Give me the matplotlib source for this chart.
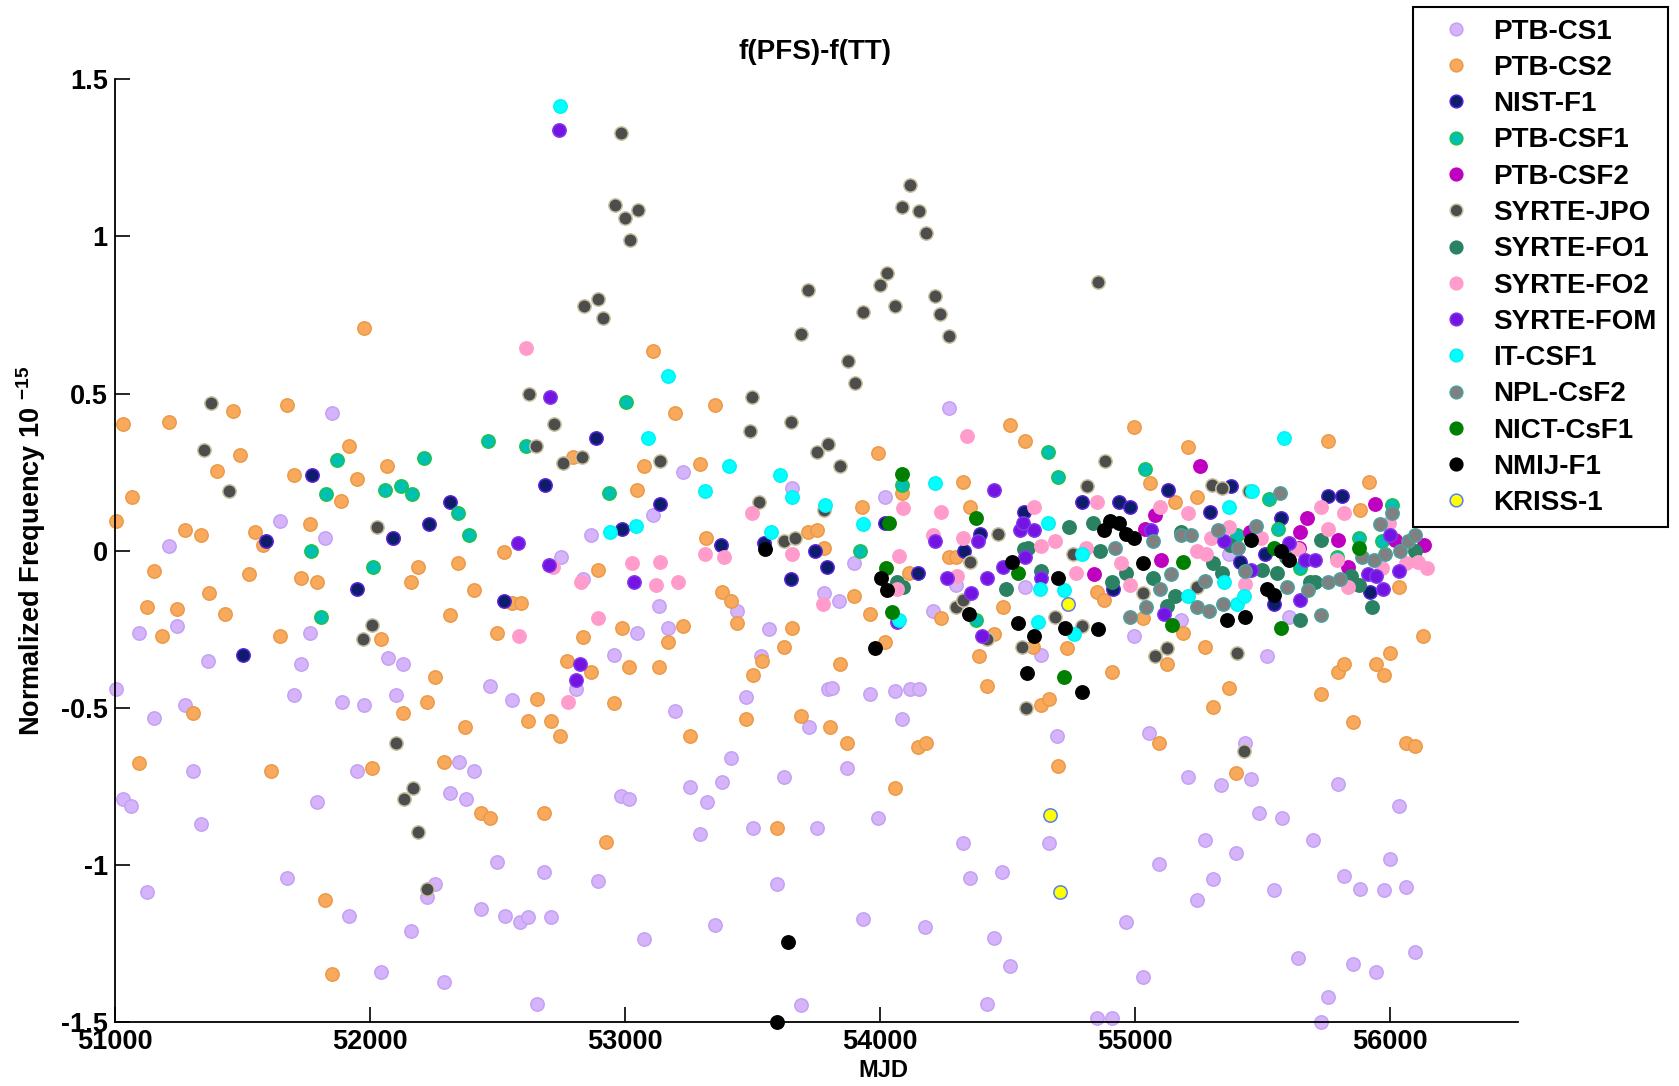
import matplotlib
matplotlib.use("Agg")
import matplotlib.pyplot as plt

plt.rcParams['font.family'] = ['Liberation Sans', 'DejaVu Sans']
plt.rcParams['font.weight'] = 'bold'
plt.rcParams['mathtext.fontset'] = 'custom'
plt.rcParams['mathtext.bf'] = 'Liberation Sans:bold'
plt.rcParams['mathtext.rm'] = 'Liberation Sans:bold'

names = ['PTB-CS1', 'PTB-CS2', 'NIST-F1', 'PTB-CSF1', 'PTB-CSF2', 'SYRTE-JPO',
         'SYRTE-FO1', 'SYRTE-FO2', 'SYRTE-FOM', 'IT-CSF1', 'NPL-CsF2',
         'NICT-CsF1', 'NMIJ-F1', 'KRISS-1']

PTB_CS1 = [(51004,-0.44),(51034,-0.79),(51063,-0.81),(51097,-0.26),(51126,-1.085),(51155,-0.53),
    (51214,0.015),(51244,-0.24),(51277,-0.49),(51307,-0.70),(51340,-0.87),(51366,-0.35),(51648,0.095),
    (51676,-1.04),(51702,-0.46),(51731,-0.36),(51765,-0.26),(51794,-0.80),(51824,0.04),(51853,0.44),
    (51891,-0.48),(51920,-1.16),(51950,-0.70),(51979,-0.49),(52042,-1.34),(52071,-0.34),(52101,-0.46),
    (52130,-0.36),(52160,-1.21),(52223,-1.10),(52256,-1.06),(52290,-1.37),(52315,-0.77),(52349,-0.67),
    (52378,-0.79),(52408,-0.70),(52437,-1.14),(52471,-0.43),(52500,-0.99),(52529,-1.16),(52559,-0.475),
    (52588,-1.18),(52622,-1.165),(52656,-1.44),(52681,-1.02),(52710,-1.165),(52748,-0.02),(52807,-0.44),
    (52837,-0.09),(52866,0.05),(52895,-1.05),(52958,-0.33),(52983,-0.78),(53017,-0.79),(53046,-0.26),
    (53076,-1.235),(53109,0.115),(53134,-0.175),(53168,-0.245),(53197,-0.51),(53227,0.25),(53256,-0.75),
    (53294,-0.90),(53323,-0.80),(53353,-1.19),(53382,-0.735),(53416,-0.66),(53441,-0.19),(53475,-0.465),
    (53504,-0.88),(53534,-0.335),(53563,-0.25),(53597,-1.06),(53622,-0.72),(53655,0.20),(53689,-1.445),
    (53723,-0.56),(53752,-0.88),(53782,-0.135),(53798,-0.44),(53811,-0.435),(53840,-0.16),(53870,-0.69),
    (53899,-0.04),(53933,-1.17),(53962,-0.455),(53992,-0.85),(54021,0.17),(54059,-0.445),(54088,-0.535),
    (54118,-0.44),(54151,-0.44),(54176,-1.195),(54206,-0.19),(54269,0.455),(54298,-0.11),(54324,-0.93),
    (54353,-1.04),(54420,-1.44),(54445,-1.23),(54479,-1.02),(54508,-1.32),(54567,-0.115),(54630,-0.33),
    (54664,-0.93),(54693,-0.59),(54849,-1.485),(54908,-1.485),(54966,-1.18),(54996,-0.27),(55029,-1.355),
    (55055,-0.58),(55093,-0.995),(55181,-0.22),(55206,-0.72),(55244,-1.11),(55273,-0.92),(55307,-1.045),
    (55336,-0.745),(55366,-0.01),(55395,-0.96),(55429,-0.61),(55454,-0.725),(55487,-0.835),(55517,-0.335),
    (55546,-1.08),(55576,-0.85),(55605,-0.21),(55639,-1.295),(55698,-0.92),(55727,-1.50),(55756,-1.42),
    (55794,-0.74),(55819,-1.035),(55853,-1.315),(55882,-1.075),(55945,-1.34),(55975,-1.08),(56000,-0.98),
    (56034,-0.81),(56063,-1.07),(56097,-1.275)]

PTB_CS2 = [(51004,0.095),(51034,0.405),(51067,0.17),(51097,-0.675),(51126,-0.18),(51155,-0.065),
    (51185,-0.27),(51214,0.41),(51244,-0.185),(51277,0.065),(51307,-0.515),(51340,0.05),(51370,-0.135),
    (51403,0.255),(51433,-0.20),(51462,0.445),(51492,0.305),(51525,-0.075),(51551,0.06),(51580,0.02),
    (51614,-0.70),(51647,-0.27),(51676,0.465),(51702,0.24),(51731,-0.085),(51765,0.085),(51794,-0.10),
    (51824,-1.11),(51853,-1.345),(51887,0.16),(51920,0.335),(51950,0.23),(51979,0.71),(52008,-0.69),
    (52042,-0.28),(52067,0.27),(52092,0.04),(52130,-0.515),(52160,-0.10),(52189,-0.05),(52223,-0.48),
    (52256,-0.40),(52290,-0.67),(52315,-0.205),(52345,-0.04),(52374,-0.56),(52408,-0.125),(52437,-0.835),
    (52471,-0.85),(52500,-0.26),(52525,-0.005),(52559,-0.165),(52592,-0.165),(52622,-0.54),(52656,-0.47),
    (52681,-0.835),(52710,-0.54),(52744,-0.59),(52773,-0.35),(52798,0.30),(52836,-0.275),(52866,-0.385),
    (52895,-0.06),(52924,-0.925),(52958,-0.485),(52987,-0.245),(53017,-0.37),(53046,0.195),(53076,0.27),
    (53109,0.635),(53134,-0.37),(53168,-0.29),(53197,0.44),(53227,-0.24),(53256,-0.59),(53294,0.275),
    (53319,0.04),(53353,0.465),(53382,-0.13),(53416,-0.16),(53441,-0.23),(53475,-0.535),(53504,-0.395),
    (53538,-0.35),(53597,-0.88),(53622,-0.305),(53655,-0.245),(53689,-0.525),(53718,0.06),(53752,0.065),
    (53782,0.01),(53803,-0.56),(53845,-0.36),(53870,-0.61),(53899,-0.145),(53929,0.14),(53962,-0.20),
    (53992,0.31),(54021,-0.29),(54059,-0.755),(54088,0.185),(54113,-0.07),(54147,-0.625),(54181,-0.61),
    (54240,-0.215),(54269,-0.02),(54298,-0.02),(54324,0.22),(54353,0.14),(54387,-0.335),(54420,-0.43),
    (54445,-0.265),(54483,-0.18),(54508,0.40),(54567,0.35),(54601,-0.305),(54630,-0.49),(54664,-0.47),
    (54698,-0.685),(54731,-0.31),(54849,-0.13),(54878,-0.155),(54908,-0.385),(54996,0.395),(55029,-0.215),
    (55059,0.215),(55093,-0.61),(55126,-0.36),(55156,0.155),(55189,-0.26),(55206,0.33),(55244,0.17),
    (55273,-0.305),(55307,-0.495),(55366,-0.435),(55395,-0.705),(55727,-0.455),(55756,0.35),(55794,-0.385),
    (55819,-0.36),(55853,-0.545),(55882,0.13),(55916,0.22),(55945,-0.36),(55975,-0.395),(56000,-0.325),
    (56034,-0.115),(56063,-0.61),(56097,-0.62),(56130,-0.27)]

NIST_F1 = [(51504,-0.33),(51592,0.03),(51773,0.24),(51950,-0.12),(52092,0.04),(52231,0.085),(52315,0.155),
    (52525,-0.16),(52685,0.21),(52887,0.36),(52987,0.07),(53139,0.15),(53378,0.02),(53546,0.025),
    (53651,-0.09),(53744,0.0),(53794,-0.05),(54021,0.09),(54147,-0.07),(54328,0.0),(54391,0.055),
    (54563,0.125),(54790,0.155),(54912,-0.12),(54937,0.155),(54979,0.14),(55130,0.195),(55294,0.125),
    (55374,0.205),(55412,-0.035),(55508,-0.01),(55546,-0.17),(55571,0.105),(55756,0.175),(55811,0.175),
    (55920,-0.13)]

PTB_CSF1 = [(51769,0.0),(51807,-0.21),(51828,0.18),(51870,0.29),(52013,-0.05),(52059,0.195),(52122,0.205),
    (52164,0.18),(52214,0.295),(52345,0.12),(52387,0.05),(52462,0.35),(52613,0.335),(52937,0.185),
    (53004,0.475),(53920,0.0),(54088,0.21),(54378,-0.22),(54660,0.315),(54698,0.235),(55038,0.26),
    (55399,0.05),(55525,0.165),(55559,0.07),(55647,-0.055),(55790,-0.02),(55878,0.04),(55966,0.03),
    (56008,0.145)]

PTB_CSF2 = [(54840,-0.075),(55038,0.07),(55076,0.115),(55101,-0.03),(55256,0.27),(55450,0.06),(55643,0.01),
    (55647,0.06),(55672,0.105),(55794,0.035),(55836,-0.05),(55941,0.15),(56017,0.035),(56134,0.02)]

SYRTE_JPO = [(51349,0.32),(51378,0.47),(51450,0.19),(51975,-0.28),(52008,-0.235),(52029,0.075),(52101,-0.61),
    (52135,-0.79),(52168,-0.755),(52189,-0.895),(52223,-1.075),(52626,0.50),(52651,0.335),(52723,0.405),
    (52756,0.28),(52832,0.30),(52840,0.78),(52895,0.80),(52916,0.74),(52962,1.10),(52983,1.33),(53000,1.06),
    (53021,0.99),(53050,1.085),(53139,0.285),(53492,0.38),(53500,0.49),(53525,0.155),(53622,0.03),
    (53651,0.41),(53668,0.04),(53689,0.69),(53718,0.83),(53752,0.315),(53782,0.13),(53798,0.34),
    (53845,0.27),(53874,0.605),(53903,0.535),(53933,0.76),(54000,0.845),(54029,0.885),(54059,0.78),
    (54088,1.095),(54118,1.165),(54151,1.08),(54181,1.01),(54214,0.81),(54235,0.755),(54269,0.685),
    (54298,-0.18),(54324,-0.155),(54353,-0.035),(54420,-0.28),(54462,0.055),(54555,-0.305),(54571,-0.50),
    (54685,-0.21),(54756,-0.01),(54790,-0.24),(54811,0.205),(54853,0.855),(54882,0.285),(55029,-0.135),
    (55076,-0.335),(55126,-0.31),(55244,-0.115),(55303,0.21),(55340,0.20),(55399,-0.325),(55425,-0.635),
    (55445,0.19)]

SYRTE_FO1 = [(54067,-0.10),(54092,-0.115),(54492,-0.12),(54563,0.005),(54580,0.01),(54630,-0.065),
    (54740,0.075),(54836,0.09),(54861,0.0),(54908,-0.10),(54966,-0.07),(55071,-0.085),(55126,-0.175),
    (55155,-0.145),(55181,0.06),(55307,-0.04),(55340,-0.07),(55370,0.02),(55496,-0.06),(55555,-0.07),
    (55592,-0.02),(55647,-0.22),(55685,-0.10),(55706,-0.10),(55727,0.035),(55845,-0.08),(55878,-0.11),
    (55929,-0.18),(56097,0.0)]

SYRTE_FO2 = [(52584,-0.27),(52613,0.645),(52718,-0.05),(52777,-0.48),(52828,-0.10),(52895,-0.215),
    (53029,-0.04),(53122,-0.11),(53139,-0.035),(53210,-0.10),(53315,-0.01),(53387,-0.02),(53500,0.12),
    (53655,-0.01),(53777,-0.17),(54067,-0.12),(54076,-0.015),(54092,0.135),(54206,0.05),(54240,0.125),
    (54303,-0.08),(54324,0.04),(54340,0.365),(54605,0.14),(54630,0.015),(54685,0.03),(54769,-0.07),
    (54807,0.01),(54849,0.155),(54945,-0.04),(54979,-0.11),(55097,0.14),(55206,0.12),(55244,0.0),
    (55277,-0.01),(55298,0.04),(55366,0.075),(55429,-0.105),(55492,0.04),(55639,0.005),(55727,0.14),
    (55756,0.07),(55790,-0.03),(55819,0.12),(55836,-0.115),(55966,-0.055),(55996,0.09),(56063,-0.04),
    (56110,-0.035),(56143,-0.055)]

SYRTE_FOM = [(52580,0.025),(52702,-0.045),(52706,0.49),(52740,1.34),(52807,-0.41),(52824,-0.36),
    (53034,-0.10),(54067,-0.225),(54214,0.03),(54261,-0.085),(54357,-0.135),(54383,0.03),(54399,-0.27),
    (54420,-0.085),(54445,0.195),(54483,-0.05),(54550,0.065),(54559,0.09),(54567,-0.02),(54605,0.065),
    (54630,-0.085),(55063,0.065),(55114,-0.20),(55349,0.03),(55454,-0.06),(55605,0.025),(55647,-0.155),
    (55664,-0.03),(55706,-0.03),(55912,-0.075),(55945,-0.08),(55971,-0.12),(56000,0.05),(56034,-0.065)]

IT_CSF1 = [(52744,1.415),(52941,0.06),(53042,0.08),(53092,0.36),(53168,0.555),(53315,0.19),(53408,0.27),
    (53571,0.06),(53609,0.24),(53655,0.17),(53786,0.145),(53933,0.085),(54076,-0.22),(54214,0.215),
    (54618,-0.225),(54626,-0.12),(54660,0.09),(54723,-0.125),(54761,-0.265),(54790,-0.01),(55206,-0.145),
    (55349,-0.10),(55366,0.14),(55399,-0.17),(55425,-0.145),(55458,0.19),(55584,0.36)]

NPL_CsF2 = [(54920,0.01),(54979,-0.21),(55042,-0.18),(55071,0.03),(55097,-0.12),(55139,-0.075),(55181,0.05),
    (55218,0.05),(55244,-0.18),(55273,-0.095),(55290,-0.19),(55324,0.065),(55345,-0.17),(55403,0.01),
    (55429,-0.065),(55475,0.08),(55567,0.185),(55597,-0.115),(55676,-0.125),(55727,-0.205),(55756,-0.10),
    (55803,-0.09),(55891,-0.02),(55937,-0.03),(55958,0.085),(55979,-0.01),(56008,0.12),(56038,0.0),
    (56071,0.03),(56097,0.05)]

NICT_CsF1 = [(54025,-0.055),(54034,0.09),(54046,-0.195),(54088,0.245),(54378,0.105),(54542,-0.07),
    (54723,-0.40),(55143,-0.235),(55189,-0.035),(55546,0.01),(55571,-0.245),(55878,0.01)]

NMIJ_F1 = [(53550,0.005),(53597,-1.50),(53639,-1.245),(53979,-0.31),(54004,-0.085),(54029,-0.125),
    (54349,-0.20),(54517,-0.035),(54542,-0.23),(54576,-0.39),(54605,-0.27),(54698,-0.085),(54727,-0.245),
    (54790,-0.45),(54853,-0.25),(54878,0.065),(54903,0.095),(54937,0.09),(54966,0.055),(54996,0.04),
    (55029,-0.04),(55361,-0.22),(55429,-0.21),(55454,0.035),(55517,-0.12),(55546,-0.14),(55571,0.0),
    (55605,-0.03)]

KRISS_1 = [(54668,-0.84),(54706,-1.085),(54735,-0.17)]

series = [PTB_CS1, PTB_CS2, NIST_F1, PTB_CSF1, PTB_CSF2, SYRTE_JPO, SYRTE_FO1, SYRTE_FO2,
          SYRTE_FOM, IT_CSF1, NPL_CsF2, NICT_CsF1, NMIJ_F1, KRISS_1]

faces = ['#d6b4fb', '#f8a95c', '#0d1d6b', '#00bfb3', '#c000c0', '#4d4d4d',
         '#2b8262', '#ff9ccb', '#7414e2', '#00ffff', '#808080', '#007f00', '#000000', '#ffff00']
edges = ['#c4a2f2', '#eb9a48', '#5a22d8', '#1ec24a', '#c000c0', '#c8c2a2',
         '#2b8262', '#ff9ccb', '#8436ee', '#00f2f2', '#4aa3a0', '#007f00', '#000000', '#5a7cf5']

xticks = [51000, 52000, 53000, 54000, 55000, 56000]
yticks = [-1.5, -1, -0.5, 0, 0.5, 1, 1.5]
ytick_labels = ['-1.5', '-1', '-0.5', '0', '0.5', '1', '1.5']

fig = plt.figure(figsize=(16.79, 10.86), dpi=100)
ax = fig.add_axes([0.0683, 0.0585, 0.8357, 0.8685])

handles = []
for name, pts, fc, ec in zip(names, series, faces, edges):
    xs = [p[0] for p in pts]
    ys = [p[1] for p in pts]
    h, = ax.plot(xs, ys, linestyle='none', marker='o', markersize=9.6,
                 markerfacecolor=fc, markeredgecolor=ec, markeredgewidth=1.1,
                 label=name, clip_on=False)
    handles.append(h)

ax.set_xlim(51000, 56500)
ax.set_ylim(-1.5, 1.5)
ax.set_xticks(xticks)
ax.set_xticklabels([str(t) for t in xticks])
ax.set_yticks(yticks)
ax.set_yticklabels(ytick_labels)
ax.tick_params(direction='in', length=11, width=1.2, labelsize=19.5)
ax.tick_params(axis='x', pad=5)
ax.tick_params(axis='y', pad=5)
for lab in ax.get_xticklabels() + ax.get_yticklabels():
    lab.set_fontweight('bold')
ax.spines['top'].set_visible(False)
ax.spines['right'].set_visible(False)
ax.spines['left'].set_linewidth(1.3)
ax.spines['bottom'].set_linewidth(1.3)

ax.set_xlabel('MJD', fontsize=17, fontweight='bold')
ax.xaxis.set_label_coords(0.5475, -0.039)
ax.set_ylabel(r'Normalized Frequency 10 $^{\mathbf{-15}}$', fontsize=19.5, fontweight='bold')
ax.yaxis.set_label_coords(-0.0475, 0.5)
fig.text(0.4854, 0.952, 'f(PFS)-f(TT)', ha='center', va='center', fontsize=20, fontweight='bold')

leg = fig.legend(handles=handles, loc='upper right', bbox_to_anchor=(0.9934, 0.9931),
                 bbox_transform=fig.transFigure, borderaxespad=0,
                 prop={'weight': 'bold', 'size': 20}, frameon=True, fancybox=False,
                 edgecolor='black', framealpha=1, handlelength=2.3, handletextpad=0.2,
                 labelspacing=0.37, borderpad=0.4, markerscale=0.95, numpoints=1)
leg.get_frame().set_linewidth(1.5)

fig.savefig('out.png', dpi=100)
